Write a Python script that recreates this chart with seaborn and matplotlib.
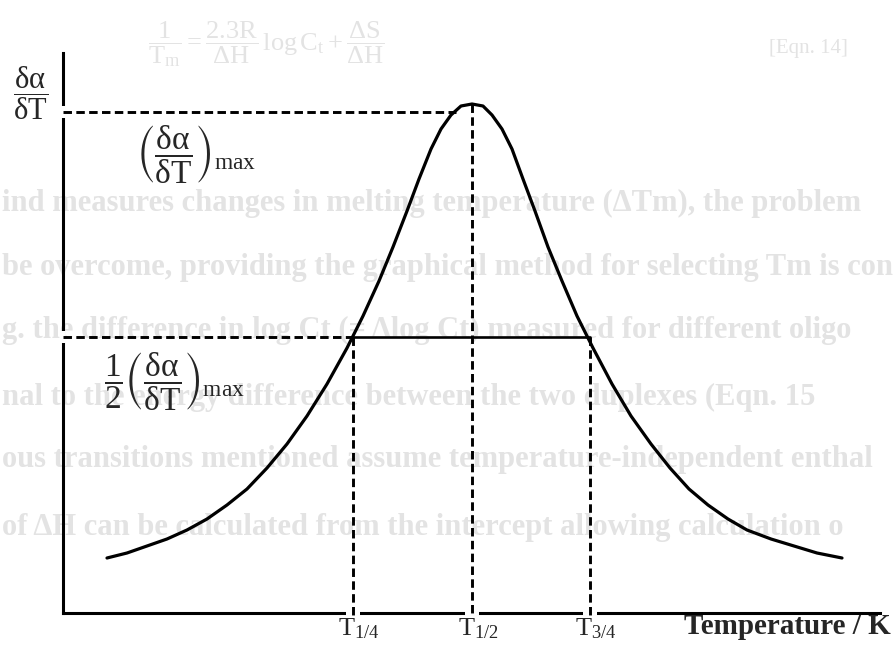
import matplotlib
matplotlib.use("Agg")
import matplotlib.pyplot as plt
from matplotlib.transforms import Affine2D
import seaborn as sns

# Derivative melting curve (dα/dT against temperature, arbitrary units)
temperature = [44, 64, 84, 104, 124, 144, 164, 184, 204, 224, 244, 264, 284, 300,
               316, 330, 344, 356, 368, 378, 388, 398, 409,
               420, 429, 439, 449, 460, 472, 485, 499, 514, 530, 549, 568, 588,
               607, 626, 645, 665, 684, 708, 731, 754, 779]
dadt = [55, 60, 67, 74, 83, 94, 108, 124, 145, 169, 197, 229, 265, 297,
        332, 366, 402, 434, 464, 484, 498, 507, 509,
        507, 498, 484, 464, 434, 402, 366, 332, 297, 265, 229, 197, 169,
        145, 124, 108, 94, 83, 74, 67, 60, 55]

# Characteristic temperatures and guide levels
t_marks = [290, 409, 527]
t_labels = ["1/4", "1/2", "3/4"]
max_guide = 501
max_guide_end = 393
half_level = 276

# Faint text showing through the scanned page
page_lines = [
    "ind measures changes in melting temperature (ΔTm), the problem",
    "be overcome, providing the graphical method for selecting Tm is con",
    "g. the difference in log Ct (= Δlog Ct) measured for different oligo",
    "nal to the energy difference between the two duplexes (Eqn. 15",
    "ous transitions mentioned assume temperature-independent enthal",
    "of ΔH can be calculated from the intercept allowing calculation o",
]
page_rows = [203, 268, 330, 397, 460, 527]

sns.set_theme(style="white")
plt.rcParams.update({
    "font.family": ["Liberation Serif", "DejaVu Serif"],
    "mathtext.fontset": "custom",
    "mathtext.rm": "Liberation Serif",
    "mathtext.it": "Liberation Serif",
    "mathtext.bf": "Liberation Serif:bold",
    "mathtext.fallback": "stix",
})

W, H = 893, 652
fig = plt.figure(figsize=(W / 100, H / 100), dpi=100)
fig.patch.set_facecolor("white")
px = Affine2D().scale(1 / W, -1 / H).translate(0, 1) + fig.transFigure

# Axes origin at pixel (63, 613); one data unit per pixel
x0, y0, xr, yt = 63, 613, 880, 53
ax = fig.add_axes([x0 / W, (H - y0) / H, (xr - x0) / W, (y0 - yt) / H])
ax.set_xlim(0, xr - x0)
ax.set_ylim(0, y0 - yt)
ax.set_facecolor("none")
ax.set_xticks([])
ax.set_yticks([])
for side in ("top", "right"):
    ax.spines[side].set_visible(False)
for side in ("left", "bottom"):
    ax.spines[side].set_linewidth(2.2)
    ax.spines[side].set_color("black")

grey = "#e3e3e3"
for txt, row in zip(page_lines, page_rows):
    fig.text(2, row, txt, transform=px, ha="left", va="center", fontsize=22,
             fontweight="bold", color=grey, zorder=-1)
fig.text(148, 44, r"$\dfrac{1}{T_m} = \dfrac{2.3R}{\Delta H}\,\log C_t + \dfrac{\Delta S}{\Delta H}$",
         transform=px, ha="left", va="center", fontsize=19, color=grey, zorder=-1)
fig.text(769, 48, "[Eqn. 14]", transform=px, ha="left", va="center", fontsize=15,
         color=grey, zorder=-1)

# Curve
sns.lineplot(x=temperature, y=dadt, ax=ax, color="black", linewidth=2.3,
             sort=False, estimator=None, zorder=5)

dash = (0, (2.9, 1.5))
kw = dict(color="black", linewidth=2.1, linestyle=dash, clip_on=False, zorder=4)
gap = dict(color="white", linewidth=4, solid_capstyle="butt", clip_on=False, zorder=3)

t_q, t_h, t_tq = t_marks
# breaks in the axis lines where the guides cross them
for t in t_marks:
    ax.plot([t - 7, t + 7], [0, 0], **gap)
for lv in (max_guide, half_level):
    ax.plot([0, 0], [lv - 6, lv + 6], **gap)

ax.plot([0, max_guide_end], [max_guide, max_guide], **kw)
ax.plot([t_h, t_h], [max(dadt), -3], **kw)
ax.plot([0, t_q], [half_level, half_level], **kw)
ax.plot([t_q, t_q], [half_level, -3], **kw)
ax.plot([t_tq, t_tq], [half_level, -3], **kw)
ax.plot([t_q, t_tq], [half_level, half_level], color="black", linewidth=1.9, zorder=4)

# Labels
ax.text(-32, y0 - 93, r"$\dfrac{\delta\alpha}{\delta\mathrm{T}}$", ha="center", va="center",
        fontsize=22, clip_on=False)
ax.text(136 - x0, y0 - 155, r"$\left(\dfrac{\delta\alpha}{\delta\mathrm{T}}\right)_{\mathrm{max}}$",
        ha="left", va="center", fontsize=24, clip_on=False)
ax.text(104 - x0, y0 - 382,
        r"$\dfrac{1}{2}\left(\dfrac{\delta\alpha}{\delta\mathrm{T}}\right)_{\mathrm{max}}$",
        ha="left", va="center", fontsize=24, clip_on=False)
for t, lab in zip(t_marks, t_labels):
    ax.text(t + 6, -22, r"$\mathrm{T}_{%s}$" % lab, ha="center", va="baseline",
            fontsize=19, clip_on=False)
fig.text(891, 634, "Temperature / K", transform=px, ha="right", va="baseline",
         fontsize=21, fontweight="bold")

fig.savefig("out.png", dpi=100, facecolor="white")
